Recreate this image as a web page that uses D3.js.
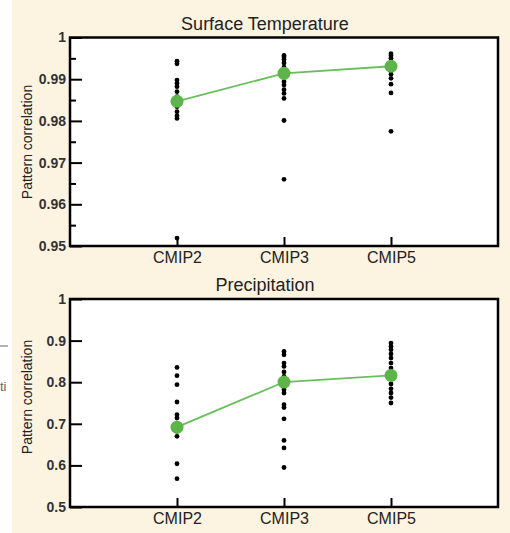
<!DOCTYPE html>
<html>
<head>
<meta charset="utf-8">
<script src="https://cdn.jsdelivr.net/npm/d3@7"></script>
<style>
  body { margin: 0; background: #fff; }
  svg { display: block; }
  text { font-family: Arial, "Liberation Sans", sans-serif; }
</style>
</head>
<body>
<svg width="510" height="533"></svg>
<script>
// model groups on the x axis
var categories = ["CMIP2", "CMIP3", "CMIP5"];

// surface temperature pattern correlations, one value per model
var tempCMIP2 = [0.9943, 0.9937, 0.9898, 0.9890, 0.9882, 0.9870, 0.9858, 0.9846, 0.9834, 0.9822, 0.9812, 0.9806, 0.9519];
var tempCMIP3 = [0.9957, 0.9953, 0.9947, 0.9939, 0.9929, 0.9917, 0.9906, 0.9894, 0.9886, 0.9875, 0.9866, 0.9854, 0.9801, 0.9660];
var tempCMIP5 = [0.9961, 0.9956, 0.9950, 0.9941, 0.9931, 0.9921, 0.9912, 0.9902, 0.9888, 0.9867, 0.9775];
var tempMeans = [0.9847, 0.9914, 0.9931];

// precipitation pattern correlations
var precCMIP2 = [0.8356, 0.8156, 0.794, 0.7524, 0.7219, 0.714, 0.6818, 0.6698, 0.604, 0.568];
var precCMIP3 = [0.874, 0.866, 0.846, 0.838, 0.8245, 0.814, 0.794, 0.782, 0.774, 0.746, 0.739, 0.712, 0.660, 0.642, 0.595];
var precCMIP5 = [0.894, 0.886, 0.878, 0.868, 0.858, 0.846, 0.834, 0.8245, 0.808, 0.7957, 0.784, 0.774, 0.763, 0.750];
var precMeans = [0.692, 0.8004, 0.8164];

var tempTicks = [0.95, 0.96, 0.97, 0.98, 0.99, 1];
var tempMinor = [0.955, 0.965, 0.975, 0.985, 0.995];
var precTicks = [0.5, 0.6, 0.7, 0.8, 0.9, 1];

var svg = d3.select("svg");

// cream page behind the figure
svg.append("rect")
    .attr("x", 12).attr("y", 0)
    .attr("width", 498).attr("height", 533)
    .attr("fill", "#fdf3e1");

// bits of the neighbouring figure at the left edge
svg.append("line")
    .attr("x1", 0).attr("x2", 8).attr("y1", 346).attr("y2", 346)
    .style("stroke", "#666").style("stroke-width", 1);
svg.append("text")
    .attr("x", 0).attr("y", 391)
    .style("font-size", "13px").style("fill", "#666")
    .text("ti");

var left = 70, right = 498;

var x = d3.scalePoint()
    .domain(categories)
    .range([left, right])
    .padding(1);

function panel(opts) {
    var g = svg.append("g").attr("class", opts.name);
    var y = d3.scaleLinear().domain(opts.domain).range([opts.bottom, opts.top]);

    g.append("rect")
        .attr("x", left).attr("y", opts.top)
        .attr("width", right - left).attr("height", opts.bottom - opts.top)
        .attr("fill", "#fff");

    // y axis, ticks pointing inward
    var yAxis = g.append("g")
        .attr("transform", "translate(" + left + ",0)")
        .call(d3.axisLeft(y).tickValues(opts.ticks).tickSize(-12).tickPadding(4)
            .tickFormat(d => d3.format("")(+d.toFixed(2))));
    yAxis.select(".domain").remove();
    yAxis.selectAll("line").style("stroke", "#000").style("stroke-width", 2);
    yAxis.selectAll("text")
        .style("font-size", "14px").style("font-weight", "bold").style("fill", "#333");

    if (opts.minor) {
        var minorAxis = g.append("g")
            .attr("transform", "translate(" + left + ",0)")
            .call(d3.axisLeft(y).tickValues(opts.minor).tickSize(-6).tickFormat(""));
        minorAxis.select(".domain").remove();
        minorAxis.selectAll("line").style("stroke", "#000").style("stroke-width", 2);
    }

    // x axis
    var xAxis = g.append("g")
        .attr("transform", "translate(0," + opts.bottom + ")")
        .call(d3.axisBottom(x).tickSize(-9).tickPadding(6));
    xAxis.select(".domain").remove();
    xAxis.selectAll("line").style("stroke", "#000").style("stroke-width", 2);
    xAxis.selectAll("text")
        .style("font-size", "16px").style("fill", "#222");

    // model dots
    var pts = [];
    categories.forEach(function(c, i) {
        opts.series[i].forEach(function(v) { pts.push({ cat: c, v: v }); });
    });
    g.append("g").selectAll("circle")
        .data(pts)
        .enter()
            .append("circle")
            .attr("cx", d => x(d.cat))
            .attr("cy", d => y(d.v))
            .attr("r", 2.4)
            .style("fill", "#000");

    // multi-model mean
    var means = categories.map((c, i) => ({ cat: c, v: opts.means[i] }));
    g.append("path")
        .datum(means)
        .attr("d", d3.line().x(d => x(d.cat)).y(d => y(d.v)))
        .style("fill", "none")
        .style("stroke", "#6abf5c")
        .style("stroke-width", 1.8);
    g.append("g").selectAll("circle")
        .data(means)
        .enter()
            .append("circle")
            .attr("cx", d => x(d.cat))
            .attr("cy", d => y(d.v))
            .attr("r", 6.5)
            .style("fill", "#5cb548");

    // frame
    g.append("rect")
        .attr("x", left).attr("y", opts.top)
        .attr("width", right - left).attr("height", opts.bottom - opts.top)
        .attr("fill", "none")
        .style("stroke", "#000").style("stroke-width", 2.5);

    g.append("text")
        .attr("x", 265).attr("y", opts.top - 8)
        .attr("text-anchor", "middle")
        .style("font-size", "18px").style("fill", "#222")
        .text(opts.title);

    g.append("text")
        .attr("transform", "translate(32," + opts.labelY + ") rotate(-90)")
        .attr("text-anchor", "middle")
        .style("font-size", "14px").style("fill", "#222")
        .text("Pattern correlation");
}

panel({
    name: "temp", title: "Surface Temperature",
    top: 37.5, bottom: 246, labelY: 142,
    domain: [0.95, 1], ticks: tempTicks, minor: tempMinor,
    series: [tempCMIP2, tempCMIP3, tempCMIP5], means: tempMeans
});

panel({
    name: "prec", title: "Precipitation",
    top: 299, bottom: 507, labelY: 397,
    domain: [0.5, 1], ticks: precTicks, minor: null,
    series: [precCMIP2, precCMIP3, precCMIP5], means: precMeans
});
</script>
</body>
</html>
